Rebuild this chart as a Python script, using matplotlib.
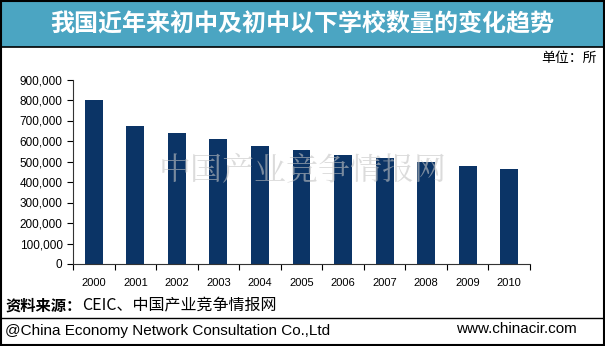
import matplotlib.pyplot as plt
import matplotlib.patches as patches
from matplotlib.ticker import FuncFormatter

plt.rcParams['font.family'] = ['Liberation Sans', 'Noto Sans CJK SC', 'DejaVu Sans']

years = ['2000', '2001', '2002', '2003', '2004', '2005',
         '2006', '2007', '2008', '2009', '2010']
schools = [800000, 674000, 638000, 611000, 578000, 557000,
           534000, 516000, 496000, 478000, 465000]
yticks = [0, 100000, 200000, 300000, 400000, 500000,
          600000, 700000, 800000, 900000]

W, H = 605, 346
fig = plt.figure(figsize=(W / 100, H / 100), dpi=100)
fig.patch.set_facecolor('white')

# title band
fig.patches.append(patches.Rectangle((0, 1 - 47 / H), 1, 47 / H, transform=fig.transFigure,
                                     facecolor='#4ba5c2', edgecolor='black', lw=1.2))
fig.text(0.5, 1 - 24 / H, '我国近年来初中及初中以下学校数量的变化趋势',
         ha='center', va='center', color='white', fontsize=17.3, fontweight='bold',
         family=['Noto Sans CJK SC'])

ax = fig.add_axes([73 / W, 1 - 264 / H, (530 - 73) / W, (264 - 79.5) / H])
x = range(len(years))
ax.bar(x, schools, width=0.43, color='#0b3466')
ax.set_ylim(0, 900000)
ax.set_xlim(-0.5, len(years) - 0.5)
ax.set_yticks(yticks)
ax.yaxis.set_major_formatter(FuncFormatter(lambda v, p: f'{int(v):,}'))
ax.set_xticks([i + 0.5 for i in range(-1, len(years))], minor=False)
ax.set_xticklabels([])
ax.set_xticks(list(x), minor=True)
ax.set_xticklabels(years, minor=True)
ax.tick_params(axis='x', which='major', length=4, direction='out', width=0.8)
ax.tick_params(axis='x', which='minor', length=0, pad=10, labelsize=8)
ax.tick_params(axis='y', length=4, direction='out', labelsize=8.5, width=0.8)
for s in ['top', 'right']:
    ax.spines[s].set_visible(False)
for s in ['left', 'bottom']:
    ax.spines[s].set_color('#333333')

# watermark
fig.text(303 / W, 1 - 170 / H, '中国产业竞争情报网', ha='center', va='center',
         fontsize=23, color='#c4c4c4', alpha=0.6, family=['Noto Serif CJK SC', 'Noto Sans CJK SC'])

fig.text(597 / W, 1 - 58 / H, '单位：所', ha='right', va='center', fontsize=10,
         family=['Noto Sans CJK SC'])

fig.text(5 / W, 1 - 306 / H, '资料来源：', ha='left', va='center', fontsize=11,
         fontweight='bold', family=['Noto Sans CJK SC'])
fig.text(82 / W, 1 - 306 / H, 'CEIC、中国产业竞争情报网', ha='left', va='center',
         fontsize=11.5, family=['Noto Sans CJK SC'])

fig.lines.append(plt.Line2D([0, 1], [1 - 318 / H, 1 - 318 / H], transform=fig.transFigure,
                            color='black', lw=1))
fig.text(5 / W, 1 - 331 / H, '@China Economy Network Consultation Co.,Ltd', ha='left',
         va='center', fontsize=11)
fig.text(577 / W, 1 - 329 / H, 'www.chinacir.com', ha='right', va='center', fontsize=11)

# outer border
fig.patches.append(patches.Rectangle((0.001, 0.002), 0.997, 0.996, transform=fig.transFigure,
                                     facecolor='none', edgecolor='black', lw=1.5))

fig.savefig('out.png', dpi=100)
